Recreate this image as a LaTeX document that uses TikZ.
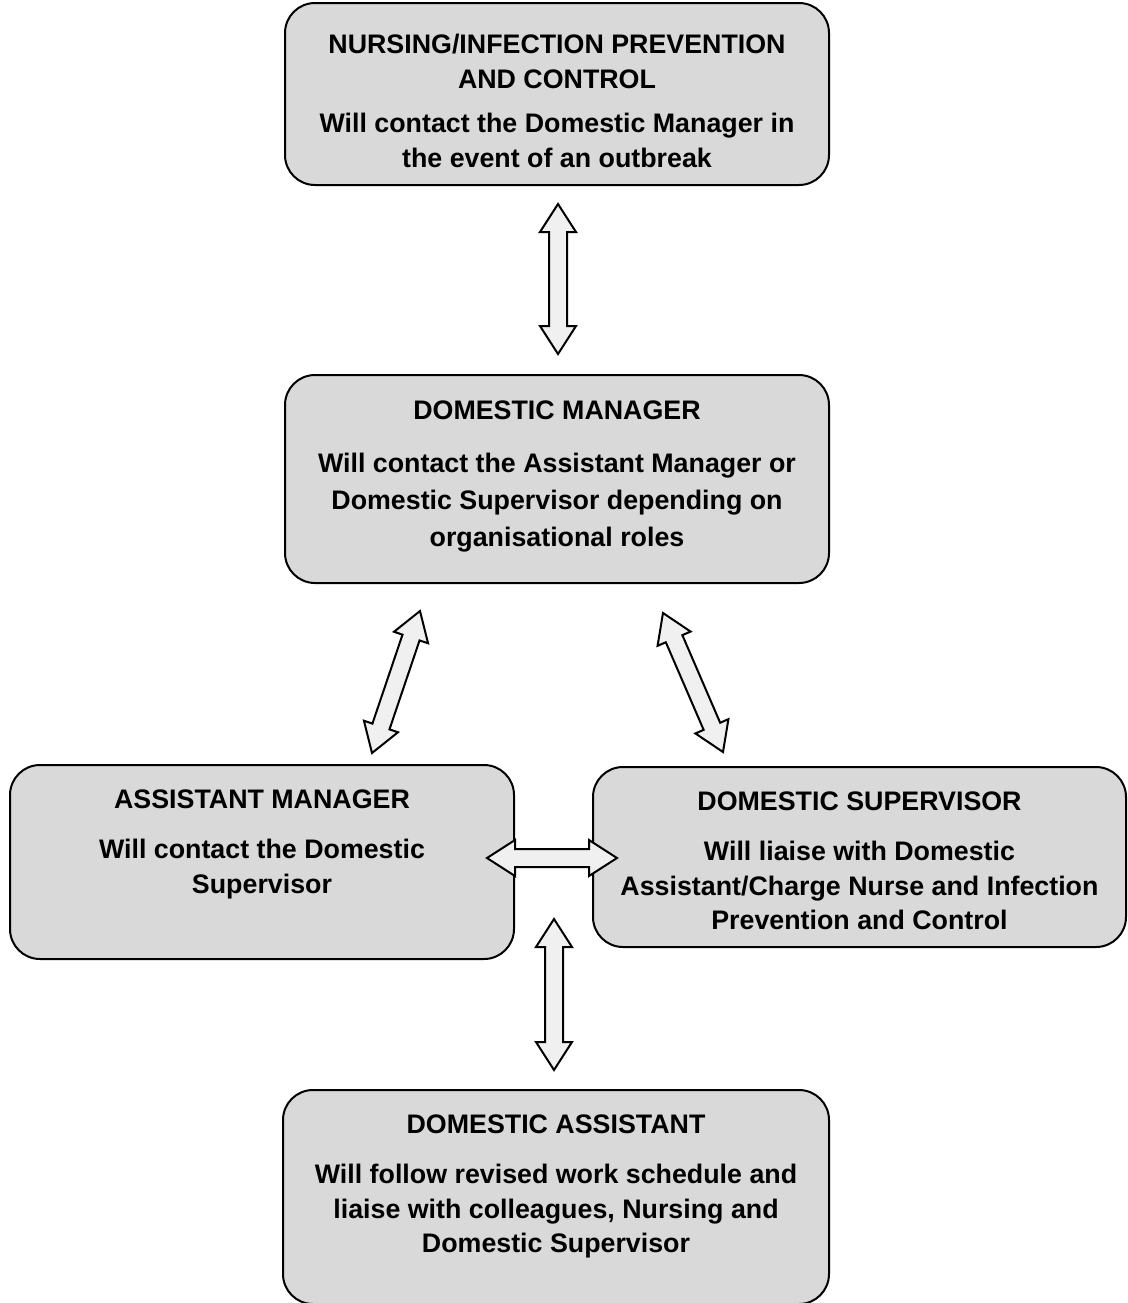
\documentclass[tikz,border=0pt]{standalone}
\usepackage{fontspec}
\setmainfont{Liberation Sans}
\usepackage{xcolor}
\usetikzlibrary{positioning}
\usetikzlibrary{calc}
\definecolor{boxgray}{HTML}{D9D9D9}
\definecolor{arrowgray}{HTML}{F0F0F0}
\tikzset{unit/.style={draw, line width=1pt, rounded corners=15pt, fill=boxgray},
unittext/.style={align=center, inner sep=0pt, font=\bfseries\fontsize{13.4}{17.25}\selectfont},
link/.style={draw, line width=1pt, fill=arrowgray, line join=miter}}
\newcommand{\headlen}{14pt}
\newcommand{\headhw}{9pt}
\newcommand{\shafthw}{4.5pt}
\newcommand{\biarrow}[2]{%
	\draw[link] (#1)
		-- ($(#1)!\headlen!(#2)!\headhw!90:(#2)$)
		-- ($(#1)!\headlen!(#2)!\shafthw!90:(#2)$)
		-- ($(#2)!\headlen!(#1)!\shafthw!-90:(#1)$)
		-- ($(#2)!\headlen!(#1)!\headhw!-90:(#1)$)
		-- (#2)
		-- ($(#2)!\headlen!(#1)!\headhw!90:(#1)$)
		-- ($(#2)!\headlen!(#1)!\shafthw!90:(#1)$)
		-- ($(#1)!\headlen!(#2)!\shafthw!-90:(#2)$)
		-- ($(#1)!\headlen!(#2)!\headhw!-90:(#2)$)
		-- cycle;}

\begin{document}
\begin{tikzpicture}[x=0.5pt, y=-0.5pt]
	\useasboundingbox (0,0) rectangle (1128,1303);

	% boxes
	\node[unit, minimum width=272pt, minimum height=91pt] (nip) at (557,94) {};
	\node[unit, minimum width=272pt, minimum height=104pt] (dm) at (557,479) {};
	\node[unit, minimum width=252pt, minimum height=97pt] (am) at (262,862) {};
	\node[unit, minimum width=266.5pt, minimum height=90pt] (ds) at (859.5,857) {};
	\node[unit, minimum width=273pt, minimum height=107pt] (da) at (556,1197) {};

	\node[unittext, below=16pt of nip.north] (niptext) {NURSING/INFECTION PREVENTION\\AND CONTROL\\[5pt]
		Will contact the Domestic Manager in\\the event of an outbreak};
	\node[unittext, below=13pt of dm.north, font=\bfseries\fontsize{13.4}{18.5}\selectfont] (dmtext) {DOMESTIC MANAGER\\[8pt]
		Will contact the Assistant Manager or\\Domestic Supervisor depending on\\organisational roles};
	\node[unittext, below=12.5pt of am.north] (amtext) {ASSISTANT MANAGER\\[8pt]
		Will contact the Domestic\\Supervisor};
	\node[unittext, below=12.5pt of ds.north] (dstext) {DOMESTIC SUPERVISOR\\[8pt]
		Will liaise with Domestic\\Assistant/Charge Nurse and Infection\\Prevention and Control};
	\node[unittext, below=12.5pt of da.north] (datext) {DOMESTIC ASSISTANT\\[8pt]
		Will follow revised work schedule and\\liaise with colleagues, Nursing and\\Domestic Supervisor};

	% arrow ends
	\coordinate (nipdm) at (558,204);
	\coordinate (dmnip) at (558,354);
	\coordinate (dmam) at (420,611);
	\coordinate (amdm) at (372,753);
	\coordinate (dmds) at (663,613);
	\coordinate (dsdm) at (723,752);
	\coordinate (amds) at (487,858);
	\coordinate (dsam) at (617,858);
	\coordinate (mgda) at (554,919);
	\coordinate (damg) at (554,1070);

	\biarrow{nipdm}{dmnip}
	\biarrow{dmam}{amdm}
	\biarrow{dmds}{dsdm}
	\biarrow{amds}{dsam}
	\biarrow{mgda}{damg}
\end{tikzpicture}
\end{document}
